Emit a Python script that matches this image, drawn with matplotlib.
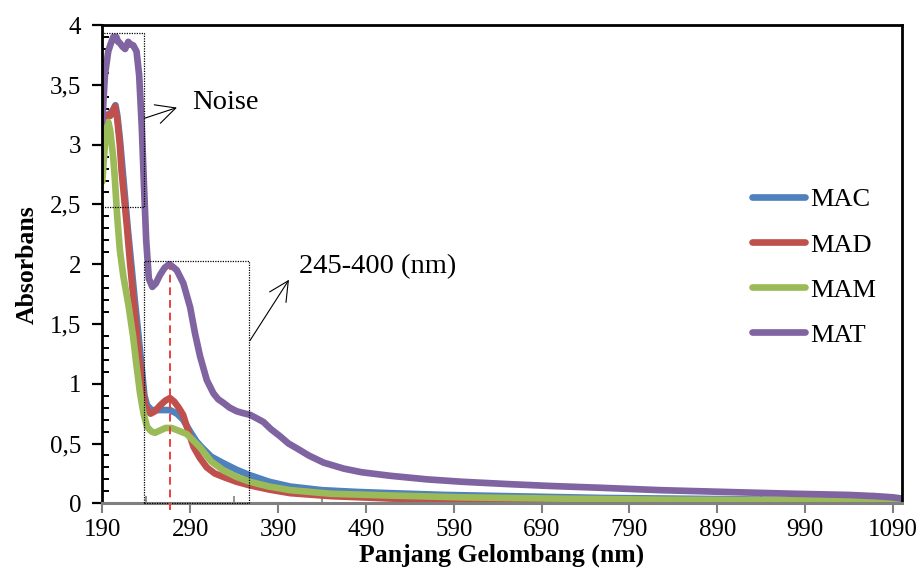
import numpy as np
import matplotlib
matplotlib.use("Agg")
import matplotlib.pyplot as plt
from matplotlib.ticker import MultipleLocator

plt.rcParams["font.family"] = ["Liberation Serif", "DejaVu Serif"]

# ---- data ----
mac_nm = [190, 193, 197, 200, 203, 205, 207, 210, 213, 216, 219, 223, 227, 231, 235, 238,
          241, 246, 255, 267, 275, 282, 290, 297, 303, 314, 328, 343, 358, 380, 404, 440,
          480, 518, 580, 650, 757, 825, 900, 1000, 1060, 1100]
mac_abs = [3.1, 3.2, 3.25, 3.27, 3.30, 3.33, 3.25, 3.05, 2.8, 2.55, 2.3, 2.0, 1.7, 1.42, 1.12, 0.9,
           0.82, 0.78, 0.78, 0.78, 0.75, 0.70, 0.60, 0.52, 0.47, 0.39, 0.335, 0.28, 0.235, 0.18, 0.14, 0.11,
           0.095, 0.085, 0.07, 0.06, 0.045, 0.04, 0.035, 0.025, 0.02, 0.008]

mad_nm = [190, 193, 196, 199, 202, 204.5, 207, 210, 212, 215, 218, 221.5, 225, 229, 233, 236,
          239, 242, 245, 250, 256, 262, 267, 272, 277, 282, 288, 294, 301, 309, 318, 328,
          343, 358, 380, 404, 450, 518, 600, 700, 800, 900, 1000, 1100]
mad_abs = [3.15, 3.22, 3.25, 3.24, 3.28, 3.32, 3.22, 3.0, 2.78, 2.55, 2.32, 2.02, 1.75, 1.45, 1.15, 0.95,
           0.82, 0.77, 0.75, 0.77, 0.82, 0.86, 0.88, 0.85, 0.80, 0.74, 0.60, 0.47, 0.38, 0.30, 0.25, 0.22,
           0.18, 0.15, 0.115, 0.085, 0.06, 0.04, 0.025, 0.015, 0.01, 0.008, 0.005, 0.0]

mam_nm = [190, 192, 194, 196.8, 199, 202.5, 204, 207, 210, 214, 220, 225, 229, 233, 237, 241,
          246, 250, 256, 262, 269, 276, 286, 293, 301, 314, 328, 343, 358, 380, 404, 450,
          518, 600, 700, 825, 900, 1000, 1060, 1100]
mam_abs = [2.69, 2.9, 3.08, 3.19, 3.12, 2.89, 2.75, 2.4, 2.12, 1.9, 1.65, 1.4, 1.15, 0.92, 0.75, 0.64,
           0.60, 0.59, 0.61, 0.63, 0.63, 0.61, 0.58, 0.53, 0.47, 0.35, 0.275, 0.22, 0.18, 0.14, 0.11, 0.08,
           0.065, 0.05, 0.04, 0.03, 0.028, 0.025, 0.02, 0.01]

mat_nm = [190, 193, 196.8, 199, 202.5, 206, 208, 210, 213, 216, 219.6, 222, 225.3, 229, 232, 234.9,
          237.8, 240, 243, 247, 251, 255.7, 261, 266.3, 270, 274.8, 282.3, 290, 295.6, 301.3, 309, 316.5,
          322, 327.9, 335, 343, 350, 358.3, 366, 373.5, 382, 392.5, 402, 411.5, 425, 442, 465, 485,
          518, 560, 600, 654, 700, 757, 825, 900, 977, 1040, 1070, 1090, 1100]
mat_abs = [3.19, 3.58, 3.78, 3.83, 3.90, 3.90, 3.86, 3.85, 3.82, 3.80, 3.86, 3.84, 3.83, 3.78, 3.58, 3.16,
           2.6, 2.2, 1.88, 1.81, 1.84, 1.91, 1.97, 2.00, 1.98, 1.95, 1.84, 1.64, 1.42, 1.23, 1.03, 0.92,
           0.87, 0.84, 0.80, 0.77, 0.755, 0.74, 0.71, 0.68, 0.62, 0.56, 0.50, 0.46, 0.40, 0.34, 0.29, 0.26,
           0.23, 0.20, 0.18, 0.16, 0.145, 0.13, 0.11, 0.095, 0.08, 0.07, 0.06, 0.05, 0.04]

series = [("MAC", mac_nm, mac_abs, "#4F81BD"),
          ("MAD", mad_nm, mad_abs, "#C0504D"),
          ("MAM", mam_nm, mam_abs, "#9BBB59"),
          ("MAT", mat_nm, mat_abs, "#8064A2")]

x_ticks = [190, 290, 390, 490, 590, 690, 790, 890, 990, 1090]
y_ticks = [0, 0.5, 1, 1.5, 2, 2.5, 3, 3.5, 4]
y_labels = ["0", "0,5", "1", "1,5", "2", "2,5", "3", "3,5", "4"]

noise_box = (190, 237.5, 2.475, 3.93)     # x0, x1, y0, y1
range_box = (237, 357.5, 0.0, 2.03)
peak_nm = 267
peak_abs = 1.98

# ---- figure ----
fig = plt.figure(figsize=(9.23, 5.70), dpi=100)
ax = fig.add_axes([0.1108, 0.117, 0.8662, 0.839])

for name, nm, ab, col in series:
    ax.plot(nm, ab, color=col, lw=4.8, label=name, solid_capstyle="round",
            solid_joinstyle="round")

ax.set_xlim(190, 1100)
ax.set_ylim(0, 4)
ax.set_xticks(x_ticks)
ax.set_yticks(y_ticks)
ax.set_yticklabels(y_labels)
ax.set_xticks([240 + 100 * i for i in range(9)], minor=True)
ax.yaxis.set_minor_locator(MultipleLocator(0.1))

ax.tick_params(axis="x", which="major", direction="out", length=7, width=1.5,
               color="#808080", labelsize=18, pad=4)
ax.tick_params(axis="x", which="minor", direction="in", length=5, width=1.2, color="#808080")
ax.tick_params(axis="y", which="major", direction="out", length=7, width=1.6,
               color="black", labelsize=18, pad=8)
ax.tick_params(axis="y", which="minor", direction="in", length=5, width=1.4, color="black")

for s in ["top", "left", "right"]:
    ax.spines[s].set_linewidth(2.0)
    ax.spines[s].set_color("black")
ax.spines["bottom"].set_linewidth(2.2)
ax.spines["bottom"].set_color("#808080")

ax.set_xlabel("Panjang Gelombang (nm)", fontsize=18.5, fontweight="bold", labelpad=2)
ax.set_ylabel("Absorbans", fontsize=18.5, fontweight="bold", labelpad=8)

# dotted boxes
for x0, x1, y0, y1 in [noise_box, range_box]:
    ax.plot([x0, x1, x1, x0, x0], [y0, y0, y1, y1, y0], color="black", lw=0.9,
            ls=(0, (1, 1)), clip_on=False, zorder=5)

# red dashed marker at the peak
ax.plot([peak_nm, peak_nm], [-0.06, peak_abs], color="#E8413C", lw=1.4, ls=(0, (4, 2.5)),
        clip_on=False, zorder=6)

arrow = dict(arrowstyle="->, head_length=0.7, head_width=0.35", lw=0.8, color="black",
             mutation_scale=20, shrinkA=0, shrinkB=0)
ax.annotate("", xy=(275, 3.31), xytext=(237.8, 3.22), arrowprops=arrow)
ax.text(292, 3.35, "Noise", fontsize=20.5, va="center", ha="left")
ax.annotate("", xy=(402.5, 1.87), xytext=(358, 1.36), arrowprops=arrow)
ax.text(414, 1.98, "245-400 (nm)", fontsize=20.5, va="center", ha="left")

ax.legend(loc="center left", bbox_to_anchor=(0.8147, 0.531), bbox_transform=fig.transFigure,
          frameon=False, fontsize=19, handlelength=2.0, handletextpad=0.2,
          labelspacing=0.82, borderpad=0, borderaxespad=0)

fig.savefig("out.png", dpi=100)
